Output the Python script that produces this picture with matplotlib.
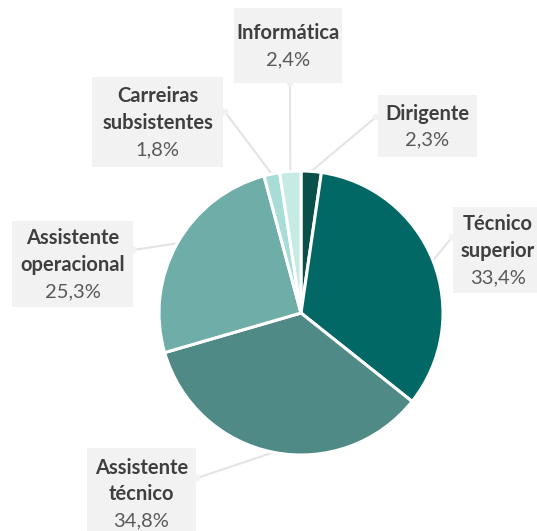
import matplotlib
matplotlib.use("Agg")
import matplotlib.pyplot as plt
import numpy as np
from matplotlib.patches import Rectangle, Circle

# Distribution of staff by career group (%)
categories = ["Dirigente", "Técnico\nsuperior", "Assistente\ntécnico",
              "Assistente\noperacional", "Carreiras\nsubsistentes", "Informática"]
values = [2.3, 33.4, 34.8, 25.3, 1.8, 2.4]
colors = ["#0b4f4a", "#016865", "#4f8a87", "#6fada9", "#a7ddd6", "#c6eae4"]

W, H = 537, 531
fig = plt.figure(figsize=(W / 100, H / 100), dpi=100)
ax = fig.add_axes([0, 0, 1, 1])
ax.set_xlim(0, W)
ax.set_ylim(0, H)
ax.set_aspect("equal")
ax.axis("off")

cx, cy, r = 301, H - 313, 142
wedges, _ = ax.pie(values, colors=colors, startangle=90, counterclock=False,
                   center=(cx, cy), radius=r,
                   wedgeprops=dict(edgecolor="white", linewidth=2.2))
ax.set_xlim(0, W)
ax.set_ylim(0, H)

# label boxes: (left, top, right, bottom) in pixel coords from the top,
# plus the anchor point on the box where the leader line starts
boxes = [
    ((378, 95, 477, 157), (376, 117)),
    ((453, 207, 545, 293), (452, 237)),
    ((87, 448, 196, 540), (197, 478)),
    ((12, 221, 133, 307), (133, 250)),
    ((92, 77, 223, 167), (225, 112)),
    ((234, 8, 342, 83), (290, 83)),
]

font = ["Lato", "DejaVu Sans"]
line_col = "#e4e4e4"
for w, val, cat, ((l, t, rr, b), (ax_, ay_)) in zip(wedges, values, categories, boxes):
    ax.add_patch(Rectangle((l, H - b), rr - l, b - t, facecolor="#f2f2f2",
                           edgecolor="none", zorder=1))
    mid = np.deg2rad((w.theta1 + w.theta2) / 2)
    px, py = cx + r * np.cos(mid), cy + r * np.sin(mid)
    ax.plot([ax_, px], [H - ay_, py], color=line_col, lw=1.5, zorder=0.5,
            solid_capstyle="round")
    ax.add_patch(Circle((ax_, H - ay_), 3.5, facecolor="#f2f2f2",
                        edgecolor="none", zorder=1))
    lines = cat.split("\n")
    xc = (l + rr) / 2
    if rr > W:
        xc = 498
    n = len(lines) + 1
    step = 26.5
    y0 = (t + b) / 2 - step * n / 2 + step / 2 + 1
    if b > H:
        y0 = 468
    for i, s in enumerate(lines):
        ax.text(xc, H - (y0 + i * step), s, ha="center", va="center",
                fontsize=14.5, fontweight="bold", color="#3f3f3f",
                family=font, zorder=2)
    ax.text(xc, H - (y0 + len(lines) * step), f"{val:.1f}%".replace(".", ","),
            ha="center", va="center", fontsize=14.5, color="#595959",
            family=font, zorder=2)

fig.savefig("out.png", dpi=100)
